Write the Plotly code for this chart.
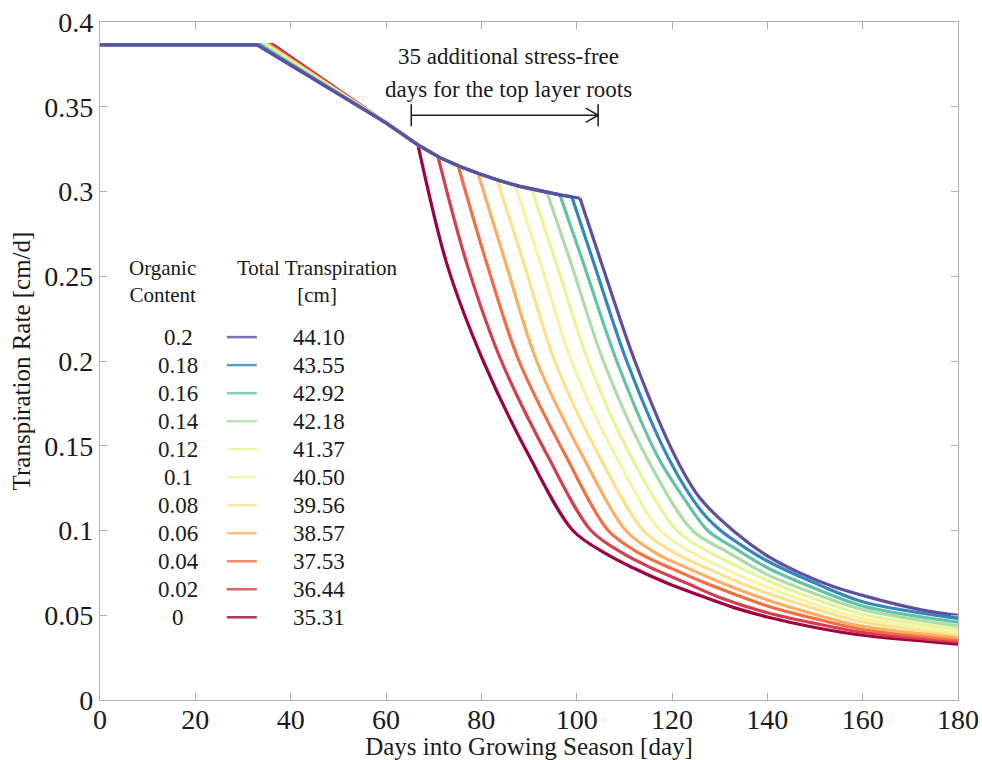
import plotly.graph_objects as go

# ---------------- data ----------------
ORGANIC = ["0", "0.02", "0.04", "0.06", "0.08", "0.1", "0.12", "0.14", "0.16", "0.18", "0.2"]
TOTAL_TRANSP = ["35.31", "36.44", "37.53", "38.57", "39.56", "40.50", "41.37", "42.18", "42.92", "43.55", "44.10"]
COLORS = ["#9e0142", "#d53e4f", "#f46d43", "#fdae61", "#fee08b", "#f6f3a4",
          "#e6f598", "#abdda4", "#66c2a5", "#3288bd", "#5e4fa2"]

PLATEAU_RATE = 0.3865
PLATEAU_END = [36.3, 36.0, 35.6, 35.3, 35.0, 34.6, 34.3, 33.9, 33.6, 33.2, 32.9]

ENV_DAYS = [60, 63, 66.7, 71.3, 75.5, 79.7, 83.9, 88.1, 92.3, 96.5, 100.7]
ENV_RATE = [0.3405, 0.3345, 0.3275, 0.3200, 0.3148, 0.3103, 0.3063, 0.3030, 0.3003, 0.2980, 0.2960]

DROP_DAY = [66.7, 70.9, 75.1, 79.3, 83.3, 87.1, 90.6, 93.8, 96.5, 99.0, 100.7]
DROP_RATE = [0.3275, 0.3206, 0.3155, 0.3108, 0.3069, 0.3037, 0.3010, 0.2992, 0.2980, 0.2968, 0.2960]

DECLINE_DAYS = [
    [72.8, 80.4, 90.2, 99.2, 106.3, 111.8, 118.9, 126, 133, 140, 150, 160, 180],
    [77.0, 84.2, 94.1, 103.0, 110, 116, 123, 130, 140, 150, 160, 180],
    [81.2, 87.9, 97.9, 106.6, 113.5, 120, 127, 133.5, 140, 150, 160, 180],
    [85.2, 91.6, 101.4, 110.3, 117, 123.5, 130.5, 140, 150, 160, 180],
    [89.0, 95.4, 104.9, 114.0, 121, 127.5, 134, 140, 150, 160, 180],
    [92.5, 98.9, 108.4, 117.5, 124.5, 131, 140, 150, 160, 180],
    [95.8, 102.4, 111.5, 121.0, 128, 134, 140, 150, 160, 180],
    [98.9, 105.6, 114.7, 124.3, 131.5, 140, 150, 160, 180],
    [101.5, 108.4, 117.1, 122.5, 127.5, 133.5, 140, 150, 160, 180],
    [103.7, 110.5, 119.2, 126, 130.2, 135, 140, 150, 160, 180],
    [105.3, 112.2, 120.8, 125.9, 132.8, 140, 146.8, 153.8, 160.9, 167.8, 174.7, 180],
]
DECLINE_RATE = [
    [0.257, 0.2, 0.143, 0.1, 0.086, 0.078, 0.069, 0.0615, 0.0545, 0.049, 0.0428, 0.0382, 0.033],
    [0.257, 0.2, 0.143, 0.1, 0.086, 0.0775, 0.069, 0.0605, 0.0515, 0.0452, 0.0399, 0.0344],
    [0.257, 0.2, 0.143, 0.1, 0.086, 0.0775, 0.069, 0.062, 0.0555, 0.048, 0.0416, 0.0355],
    [0.257, 0.2, 0.143, 0.1, 0.086, 0.0775, 0.069, 0.059, 0.0505, 0.0434, 0.0369],
    [0.257, 0.2, 0.143, 0.1, 0.086, 0.0775, 0.0695, 0.063, 0.0538, 0.046, 0.0385],
    [0.257, 0.2, 0.143, 0.1, 0.0865, 0.0775, 0.0665, 0.0563, 0.048, 0.0398],
    [0.257, 0.2, 0.143, 0.1, 0.087, 0.0785, 0.0705, 0.0595, 0.0505, 0.0418],
    [0.257, 0.2, 0.143, 0.1, 0.0875, 0.074, 0.0627, 0.0533, 0.0437],
    [0.257, 0.2, 0.143, 0.119, 0.1, 0.089, 0.078, 0.0658, 0.0555, 0.0459],
    [0.257, 0.2, 0.143, 0.112, 0.1, 0.0905, 0.082, 0.069, 0.058, 0.0481],
    [0.257, 0.2, 0.143, 0.119, 0.1, 0.085, 0.075, 0.067, 0.061, 0.056, 0.052, 0.050],
]

FONT = "Liberation Serif, Times New Roman, serif"
TXT = "#1a1a1a"

fig = go.Figure()
for i in range(len(ORGANIC)):
    xa = [0, PLATEAU_END[i]] + [d for d in ENV_DAYS if d < DROP_DAY[i]] + [DROP_DAY[i]]
    ya = [PLATEAU_RATE, PLATEAU_RATE] + [r for d, r in zip(ENV_DAYS, ENV_RATE) if d < DROP_DAY[i]] + [DROP_RATE[i]]
    fig.add_trace(go.Scatter(x=xa, y=ya, mode="lines", showlegend=False, hoverinfo="skip",
                             line=dict(color=COLORS[i], width=3.2)))
    xb = [DROP_DAY[i]] + DECLINE_DAYS[i]
    yb = [DROP_RATE[i]] + DECLINE_RATE[i]
    fig.add_trace(go.Scatter(x=xb, y=yb, mode="lines", showlegend=False,
                             name=ORGANIC[i],
                             line=dict(color=COLORS[i], width=3.2, shape="spline", smoothing=0.9)))

# ---------------- custom legend (table-like) ----------------
ann = []
shapes = []
ann.append(dict(x=13.2, y=0.247, xref="x", yref="y", text="Organic<br>Content", showarrow=False,
                font=dict(family=FONT, size=21, color=TXT), align="center"))
ann.append(dict(x=45.7, y=0.247, xref="x", yref="y", text="Total Transpiration<br>[cm]", showarrow=False,
                font=dict(family=FONT, size=21, color=TXT), align="center"))
row0 = 0.2141
step = 0.01653
for k, i in enumerate(range(len(ORGANIC) - 1, -1, -1)):
    yy = row0 - k * step
    ann.append(dict(x=16.4, y=yy, xref="x", yref="y", text=ORGANIC[i], showarrow=False,
                    font=dict(family=FONT, size=23, color=TXT)))
    ann.append(dict(x=46.0, y=yy, xref="x", yref="y", text=TOTAL_TRANSP[i], showarrow=False,
                    font=dict(family=FONT, size=23, color=TXT)))
    shapes.append(dict(type="line", x0=26.6, x1=32.9, y0=yy, y1=yy, xref="x", yref="y",
                       line=dict(color=COLORS[i], width=2.5), opacity=0.8))

# ---------------- annotation with bracket arrow ----------------
ann.append(dict(x=85.6, y=(700 - 55) / 1700, xref="x", yref="y", text="35 additional stress-free",
                showarrow=False, font=dict(family=FONT, size=23, color=TXT)))
ann.append(dict(x=85.6, y=(700 - 88) / 1700, xref="x", yref="y", text="days for the top layer roots",
                showarrow=False, font=dict(family=FONT, size=23, color=TXT)))
ya_ = 0.345
x0_, x1_ = 65.3, 104.5
line_style = dict(color="#222", width=1.6)
shapes += [
    dict(type="line", x0=x0_, x1=x1_, y0=ya_, y1=ya_, xref="x", yref="y", line=line_style),
    dict(type="line", x0=x0_, x1=x0_, y0=ya_ - 0.0065, y1=ya_ + 0.0065, xref="x", yref="y", line=line_style),
    dict(type="line", x0=x1_, x1=x1_, y0=ya_ - 0.0065, y1=ya_ + 0.0065, xref="x", yref="y", line=line_style),
    dict(type="line", x0=x1_ - 2.6, x1=x1_, y0=ya_ + 0.0042, y1=ya_, xref="x", yref="y", line=line_style),
    dict(type="line", x0=x1_ - 2.6, x1=x1_, y0=ya_ - 0.0042, y1=ya_, xref="x", yref="y", line=line_style),
]

axis_common = dict(showgrid=False, zeroline=False, showline=True, linecolor="#b0b0b0", linewidth=1.2,
                   mirror="ticks", ticks="inside", ticklen=7, tickcolor="#b0b0b0",
                   tickfont=dict(family=FONT, size=28, color=TXT))

fig.update_layout(
    width=982, height=760,
    margin=dict(l=100, r=24, t=22, b=60),
    paper_bgcolor="white", plot_bgcolor="white",
    font=dict(family=FONT, color=TXT),
    xaxis=dict(range=[0, 180], dtick=20, tick0=0, automargin=False, ticklabelstandoff=-6,
               title=dict(text="Days into Growing Season [day]", standoff=6,
                          font=dict(family=FONT, size=25, color=TXT)),
               **axis_common),
    yaxis=dict(range=[0, 0.4], dtick=0.05, tick0=0, automargin=False,
               title=dict(text="Transpiration Rate [cm/d]", standoff=6,
                          font=dict(family=FONT, size=25, color=TXT)),
               **axis_common),
    annotations=ann,
    shapes=shapes,
    showlegend=False,
)

fig.write_html("out.html")
